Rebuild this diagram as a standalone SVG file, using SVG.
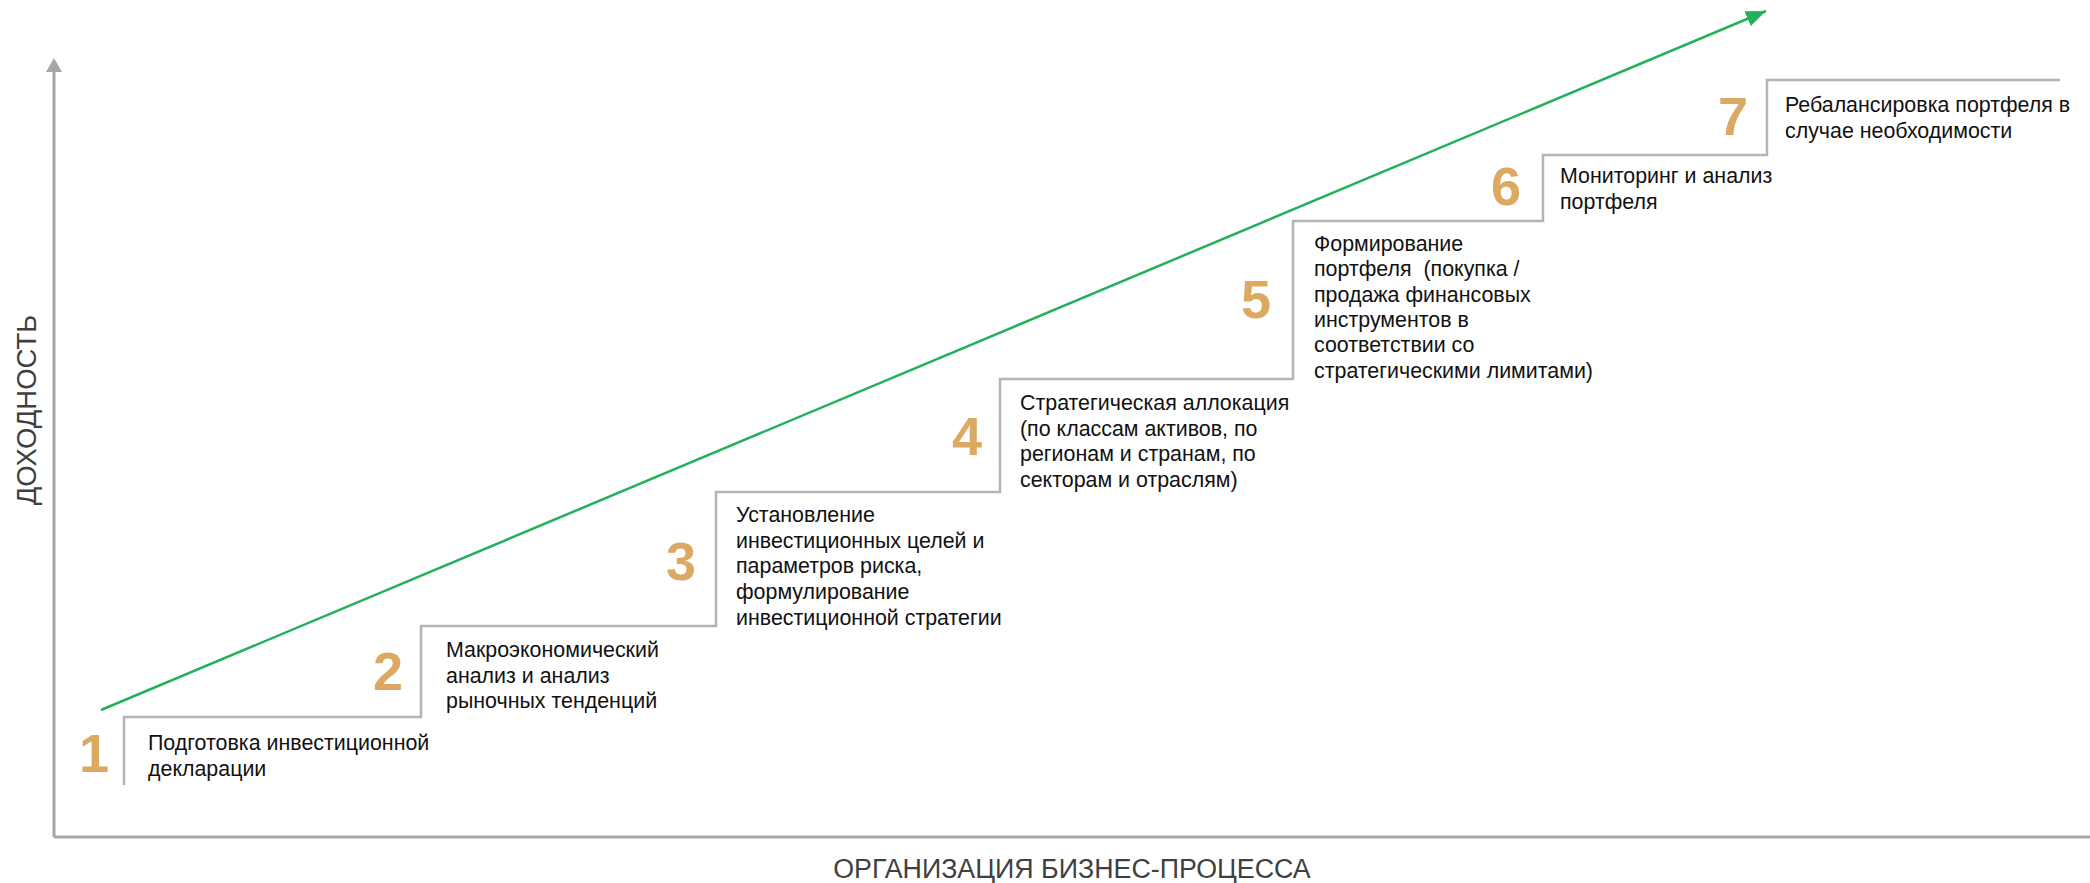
<svg xmlns="http://www.w3.org/2000/svg" width="2090" height="883" viewBox="0 0 2090 883">
<style>
.axis{stroke:#A6A6A6;stroke-width:3;fill:none}
.stair{stroke:#B4B4B4;stroke-width:2.5;fill:none}
.trend{stroke:#22B05A;stroke-width:2.5;fill:none}
.num{font-family:"Liberation Sans",Arial,sans-serif;font-weight:bold;font-size:54px;fill:#DCA963;text-anchor:middle}
.lbl{font-family:"Liberation Sans",Arial,sans-serif;font-size:21.4px;fill:#111111}
.axl{font-family:"Liberation Sans",Arial,sans-serif;font-size:26.8px;fill:#404040}
</style>
<defs>
<marker id="grArrow" markerWidth="20" markerHeight="16" refX="20" refY="8" orient="auto" markerUnits="userSpaceOnUse">
<path d="M0,0 L20,8 L0,16 Z" fill="#22B05A"/>
</marker>
</defs>
<g id="connectors">
<path class="axis" d="M54,837 V72"/>
<path d="M46,72 L54,58 L62,72 Z" fill="#A6A6A6"/>
<path class="axis" d="M54,837 H2090"/>
<path class="stair" d="M124,785 V717 H421 V626 H716 V492 H1000 V379 H1293 V221 H1543 V155 H1767 V80 H2060"/>
<path class="trend" d="M101,710 L1766,11" marker-end="url(#grArrow)"/>
</g>
<g id="axis-labels">
<text class="axl" transform="translate(36,410) rotate(-90)" text-anchor="middle" style="font-size:27.5px">ДОХОДНОСТЬ</text>
<text class="axl" x="1072" y="878" text-anchor="middle">ОРГАНИЗАЦИЯ БИЗНЕС-ПРОЦЕССА</text>
</g>
<g id="step1">
<text class="num" x="94" y="772">1</text>
<text class="lbl" x="148" y="750"><tspan x="148">Подготовка инвестиционной</tspan><tspan x="148" dy="26">декларации</tspan></text>
</g>
<g id="step2">
<text class="num" x="388" y="690">2</text>
<text class="lbl" x="446" y="657"><tspan x="446">Макроэкономический</tspan><tspan x="446" dy="25.7">анализ и анализ</tspan><tspan x="446" dy="25.7">рыночных тенденций</tspan></text>
</g>
<g id="step3">
<text class="num" x="681" y="580">3</text>
<text class="lbl" x="736" y="522"><tspan x="736">Установление</tspan><tspan x="736" dy="25.7">инвестиционных целей и</tspan><tspan x="736" dy="25.7">параметров риска,</tspan><tspan x="736" dy="25.7">формулирование</tspan><tspan x="736" dy="25.7">инвестиционной стратегии</tspan></text>
</g>
<g id="step4">
<text class="num" x="967" y="455">4</text>
<text class="lbl" x="1020" y="410"><tspan x="1020">Стратегическая аллокация</tspan><tspan x="1020" dy="25.7">(по классам активов, по</tspan><tspan x="1020" dy="25.7">регионам и странам, по</tspan><tspan x="1020" dy="25.7">секторам и отраслям)</tspan></text>
</g>
<g id="step5">
<text class="num" x="1256" y="318">5</text>
<text class="lbl" x="1314" y="251" xml:space="preserve"><tspan x="1314">Формирование</tspan><tspan x="1314" dy="25.3">портфеля  (покупка /</tspan><tspan x="1314" dy="25.3">продажа финансовых</tspan><tspan x="1314" dy="25.3">инструментов в</tspan><tspan x="1314" dy="25.3">соответствии со</tspan><tspan x="1314" dy="25.3">стратегическими лимитами)</tspan></text>
</g>
<g id="step6">
<text class="num" x="1506" y="205">6</text>
<text class="lbl" x="1560" y="183"><tspan x="1560">Мониторинг и анализ</tspan><tspan x="1560" dy="26">портфеля</tspan></text>
</g>
<g id="step7">
<text class="num" x="1733" y="135">7</text>
<text class="lbl" x="1785" y="112"><tspan x="1785">Ребалансировка портфеля в</tspan><tspan x="1785" dy="26">случае необходимости</tspan></text>
</g>
</svg>
